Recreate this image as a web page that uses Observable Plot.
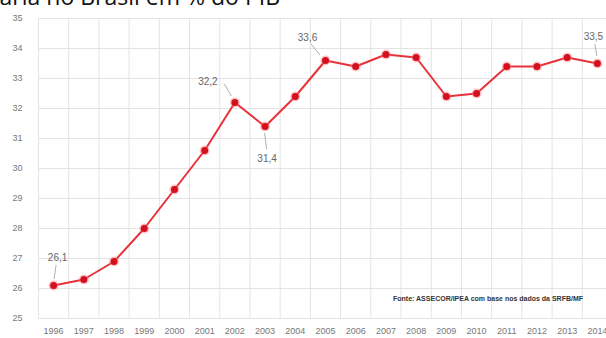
<!DOCTYPE html>
<html>
<head>
<meta charset="utf-8">
<script src="https://cdn.jsdelivr.net/npm/d3@7"></script>
<script src="https://cdn.jsdelivr.net/npm/@observablehq/plot@0.6"></script>
<style>
  html, body { margin: 0; padding: 0; background: #fff; }
  body { width: 606px; height: 338px; overflow: hidden; position: relative; font-family: "Open Sans", "Noto Sans", sans-serif; }
  #title { position: absolute; right: 326px; top: -15px; font-size: 23px; color: #111; white-space: nowrap; line-height: 1; }
  #source { position: absolute; left: 393px; top: 295px; font-size: 7px; font-weight: bold; color: #333; white-space: nowrap; font-family: "Liberation Sans", Arial, sans-serif; }
  #chart { position: absolute; left: 0; top: 0; }
  #chart svg { max-width: none !important; }
</style>
</head>
<body>
<div id="chart"></div>
<div id="title">Carga tributária no Brasil em % do PIB</div>
<div id="source">Fonte: ASSECOR/IPEA com base nos dados da SRFB/MF</div>
<script>
const years = [1996, 1997, 1998, 1999, 2000, 2001, 2002, 2003, 2004, 2005, 2006, 2007, 2008, 2009, 2010, 2011, 2012, 2013, 2014];
const values = [26.1, 26.3, 26.9, 28.0, 29.3, 30.6, 32.2, 31.4, 32.4, 33.6, 33.4, 33.8, 33.7, 32.4, 32.5, 33.4, 33.4, 33.7, 33.5];
const yTicks = [25, 26, 27, 28, 29, 30, 31, 32, 33, 34, 35];
const labelYears = [1996, 2002, 2003, 2005, 2014];

const data = years.map((y, i) => ({year: y, value: values[i]}));
const fmt = v => v.toFixed(1).replace(".", ",");

// annotation placement (pixel offsets of label and leader relative to the point)
const annPlacement = {
  1996: {dx: 4, dy: -28, l: [[1, -6], [3, -20]]},
  2002: {dx: -27, dy: -21, l: [[-3, -6], [-10, -18]]},
  2003: {dx: 2, dy: 32, l: [[0, 7], [2, 23]]},
  2005: {dx: -18, dy: -23, l: [[-5, -5], [-14, -16]]},
  2014: {dx: -4, dy: -27, l: [[0, -7], [-2, -19]]}
};
const ann = data.filter(d => labelYears.includes(d.year));

const leaders = (index, scales, values, dims, context) => {
  const g = d3.create("svg:g");
  for (const d of ann) {
    const p = annPlacement[d.year];
    const px = scales.x(d.year), py = scales.y(d.value);
    g.append("line")
      .attr("x1", px + p.l[0][0]).attr("y1", py + p.l[0][1])
      .attr("x2", px + p.l[1][0]).attr("y2", py + p.l[1][1])
      .attr("stroke", "#9a9a9a").attr("stroke-width", 0.8);
  }
  return g.node();
};

const gridX = d3.range(years[0] - 0.5, years[years.length - 1] + 1, 1);

const chart = Plot.plot({
  width: 620,
  height: 338,
  marginLeft: 38,
  marginRight: 8,
  marginTop: 18,
  marginBottom: 20,
  style: {fontFamily: "'Liberation Sans', Arial, sans-serif", background: "transparent", maxWidth: "none"},
  x: {domain: [years[0] - 0.5, years[years.length - 1] + 0.5]},
  y: {domain: [25, 35]},
  marks: [
    Plot.ruleY(yTicks, {stroke: "#e4e4e4", strokeWidth: 1}),
    Plot.ruleX(gridX, {stroke: "#e4e4e4", strokeWidth: 1}),
    Plot.axisY({ticks: yTicks, tickSize: 0, tickPadding: 16, fontSize: 9, fill: "#777", label: null}),
    Plot.axisX({ticks: years, tickFormat: d => String(d), tickSize: 0, tickPadding: 9, fontSize: 9, fill: "#777", label: null}),
    Plot.line(data, {x: "year", y: "value", stroke: "#e8323a", strokeWidth: 2}),
    Plot.dot(data, {x: "year", y: "value", r: 5, fill: "#ff7b80", fillOpacity: 0.45}),
    Plot.dot(data, {x: "year", y: "value", r: 3.5, fill: "#d2101e"}),
    leaders,
    ...ann.map(d => Plot.text([d], {
      x: "year", y: "value", text: d => fmt(d.value),
      dx: annPlacement[d.year].dx, dy: annPlacement[d.year].dy,
      fontSize: 10, fill: "#666"
    }))
  ]
});
chart.style.maxWidth = "none";
document.getElementById("chart").appendChild(chart);
</script>
</body>
</html>
